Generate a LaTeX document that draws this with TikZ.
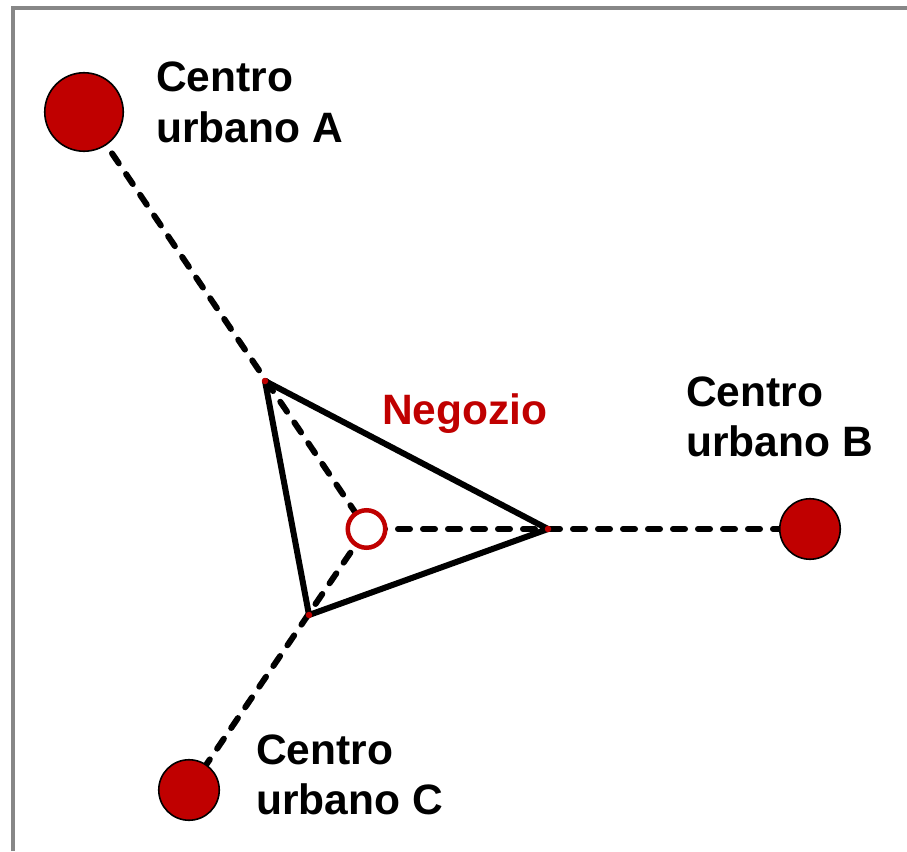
\documentclass[tikz,border=0pt]{standalone}
\usepackage{fontspec}
\setmainfont{Liberation Sans}
\usetikzlibrary{backgrounds}
\definecolor{cityred}{HTML}{C00000}
\definecolor{framegray}{HTML}{878787}
\begin{document}
\begin{tikzpicture}[x=1pt,y=-1pt,
  city/.style={circle,fill=cityred,draw=black,line width=1.6pt,inner sep=0pt},
  shop/.style={circle,fill=white,draw=cityred,line width=4.5pt,inner sep=0pt,minimum size=37.5pt},
  vtx/.style={circle,fill=cityred,inner sep=0pt,minimum size=6.5pt},
  road/.style={line width=6pt,dash pattern=on 12pt off 13pt,line cap=round},
  side/.style={line width=6pt,line join=round},
  lab/.style={font=\fontsize{42.5}{50}\selectfont\bfseries,anchor=base west,inner sep=0pt}
]
\useasboundingbox (0,0) rectangle (907,851);
% frame
\draw[framegray,line width=4.5pt] (13,851) -- (13,8) -- (907,8);

% urban centres and the shop
\node[city,minimum size=78.5pt] (A) at (84,112) {};
\node[city,minimum size=60.5pt] (B) at (810,529) {};
\node[city,minimum size=60.5pt] (C) at (189,790) {};
\node[shop] (S) at (366.5,529) {};

% triangle vertices
\node[vtx] (va) at (265,381) {};
\node[vtx] (vb) at (548,529) {};
\node[vtx] (vc) at (309,615) {};

\begin{scope}[on background layer]
  \draw[road] (A.center) -- (S.center);
  \draw[road] (B.center) -- (S.center);
  \draw[road] (C.center) -- (S.center);
  \draw[side] (va.center) -- (vb.center) -- (vc.center) -- cycle;
\end{scope}

% labels
\node[lab] (la1) at (156,91) {Centro};
\node[lab] (la2) at (156,142) {urbano A};
\node[lab] (lb1) at (686,406) {Centro};
\node[lab] (lb2) at (686,456) {urbano B};
\node[lab] (lc1) at (256,764) {Centro};
\node[lab] (lc2) at (256,814) {urbano C};
\node[lab,text=cityred] (ls) at (382,424) {Negozio};
\end{tikzpicture}
\end{document}
